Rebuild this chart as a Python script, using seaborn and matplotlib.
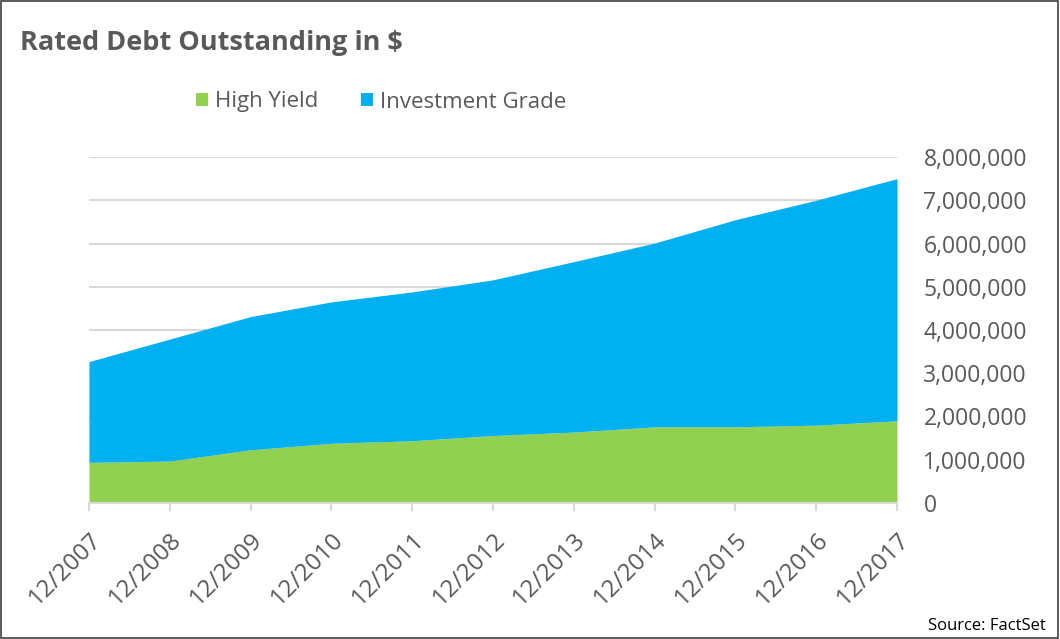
import matplotlib
matplotlib.use("Agg")
import matplotlib.pyplot as plt
import seaborn as sns
import numpy as np
from matplotlib.patches import Rectangle
from matplotlib.ticker import FuncFormatter

# Data
years = ["12/2007", "12/2008", "12/2009", "12/2010", "12/2011", "12/2012",
         "12/2013", "12/2014", "12/2015", "12/2016", "12/2017"]
high_yield = [940000, 970000, 1230000, 1380000, 1440000, 1560000,
              1640000, 1760000, 1760000, 1800000, 1900000]
total_rated = [3270000, 3790000, 4310000, 4650000, 4880000, 5160000,
               5580000, 6010000, 6550000, 7000000, 7500000]
investment_grade = [t - h for t, h in zip(total_rated, high_yield)]
series_names = ["High Yield", "Investment Grade"]
y_ticks = [0, 1000000, 2000000, 3000000, 4000000, 5000000, 6000000, 7000000, 8000000]

sns.set_theme(style="white")
plt.rcParams['font.family'] = ['Open Sans', 'DejaVu Sans']

TEXT = "#595959"
GRID = "#D9D9D9"
GREEN = "#92D050"
BLUE = "#00B0F0"

fig = plt.figure(figsize=(10.6, 6.39), dpi=100)
ax = fig.add_axes([89/1060, 1-503/639, (897-89)/1060, (503-157)/639])

x = np.arange(len(years))
ax.stackplot(x, high_yield, investment_grade, colors=[GREEN, BLUE],
             labels=series_names, linewidth=0, zorder=2)

ax.set_xlim(0, len(years) - 1)
ax.set_ylim(0, 8000000)
ax.set_yticks(y_ticks)
ax.yaxis.tick_right()
ax.yaxis.set_major_formatter(FuncFormatter(lambda v, p: f"{int(v):,}"))
ax.grid(axis="y", color=GRID, linewidth=1.5, zorder=0)
ax.set_axisbelow(True)
for s in ["top", "left", "right"]:
    ax.spines[s].set_visible(False)
ax.spines["bottom"].set_color(GRID)
ax.spines["bottom"].set_linewidth(1.5)
ax.spines["bottom"].set_zorder(3)

ax.set_xticks(x)
ax.set_xticklabels(years, rotation=45, ha="right", rotation_mode="anchor",
                   fontsize=17.5, color=TEXT)
ax.tick_params(axis="x", which="major", bottom=True, length=6, width=1.5,
               color=GRID, pad=12)
ax.tick_params(axis="y", length=0, pad=19, labelsize=16.5, labelcolor=TEXT)
for lab in ax.get_yticklabels():
    lab.set_horizontalalignment("left")

fig.text(20/1060, 1-50/639, "Rated Debt Outstanding in $", fontsize=19.5,
         fontweight="bold", color=TEXT, ha="left", va="baseline")

handles, labels = ax.get_legend_handles_labels()
fig.legend(handles, labels, loc="center", bbox_to_anchor=(381/1060, 1-102/639),
           ncol=2, frameon=False, fontsize=16, labelcolor=TEXT,
           handlelength=0.55, handleheight=0.55, handletextpad=0.3,
           columnspacing=1.9, borderpad=0)

fig.text(1046/1060, 1-630/639, "Source: FactSet", fontsize=12, color="black",
         ha="right", va="baseline")

fig.patches.append(Rectangle((0.0005, 0.0008), 0.998, 0.998, transform=fig.transFigure,
                             fill=False, edgecolor="#404040", linewidth=1.2))

fig.savefig("out.png", dpi=100)
